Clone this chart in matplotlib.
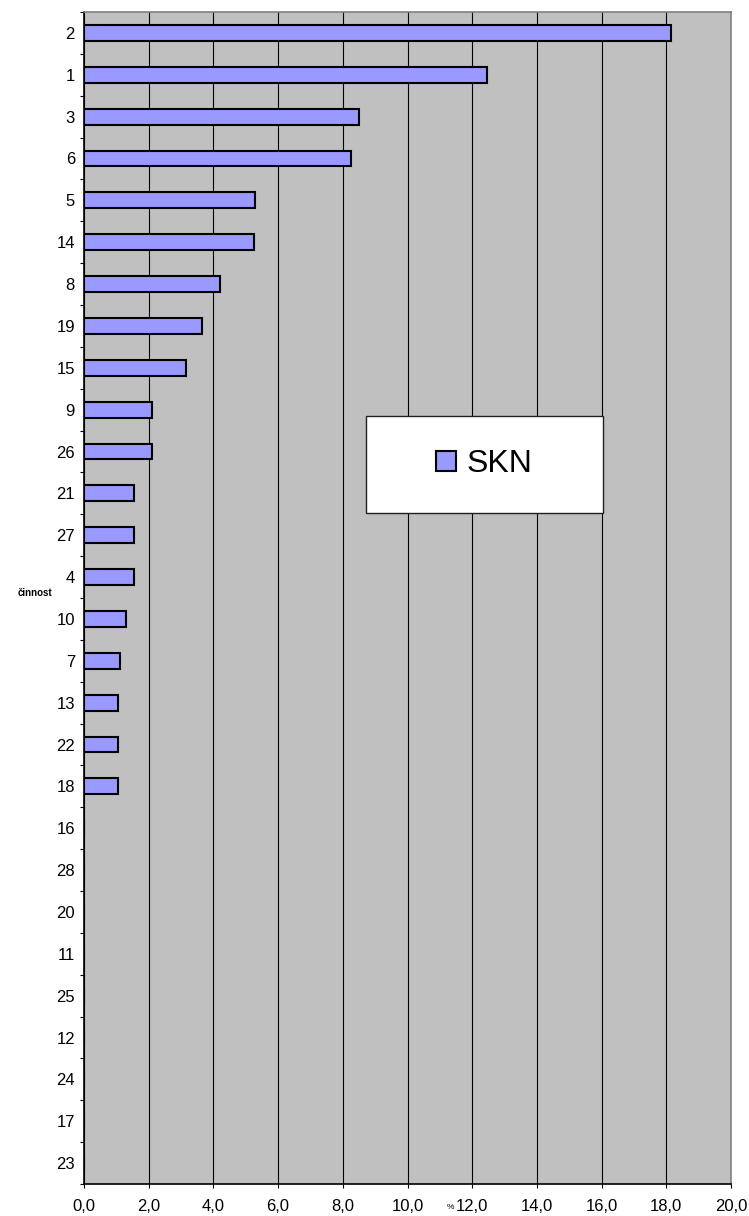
import numpy as np
import matplotlib
matplotlib.use('Agg')
import matplotlib.pyplot as plt
from matplotlib.patches import Rectangle

plt.rcParams['font.family'] = ['Liberation Sans', 'DejaVu Sans']

# activities, top to bottom
categories = ['2', '1', '3', '6', '5', '14', '8', '19', '15', '9', '26', '21', '27', '4',
              '10', '7', '13', '22', '18', '16', '28', '20', '11', '25', '12', '24', '17', '23']
skn = [18.15, 12.45, 8.5, 8.25, 5.3, 5.25, 4.2, 3.65, 3.15, 2.1, 2.1, 1.55, 1.55, 1.55,
       1.3, 1.1, 1.05, 1.05, 1.05, 0, 0, 0, 0, 0, 0, 0, 0, 0]
xticks = np.arange(0, 21, 2)
xtick_labels = [('%.1f' % v).replace('.', ',') for v in xticks]

fig = plt.figure(figsize=(7.49, 12.16), dpi=100)
ax = fig.add_axes([84 / 749, 1 - 1184 / 1216, 647 / 749, 1172 / 1216])
ax.set_facecolor('#C0C0C0')

y = np.arange(len(categories))
bars = ax.barh(y, skn, height=0.38, color='#9999FF', edgecolor='black',
               linewidth=1.5, label='SKN', zorder=3)

ax.set_xlim(0, 20)
ax.set_ylim(len(categories) - 0.5, -0.5)
ax.set_xticks(xticks)
ax.set_xticklabels(xtick_labels, fontsize=12)
ax.set_yticks(y)
ax.set_yticklabels(categories, fontsize=12)
ax.set_yticks(np.arange(len(categories) + 1) - 0.5, minor=True)
ax.tick_params(axis='y', which='major', length=0, pad=6.5)
ax.tick_params(axis='y', which='minor', length=3, width=0.8, direction='out')
ax.tick_params(axis='x', which='major', length=3, width=0.8, direction='out', pad=8)

ax.grid(axis='x', color='black', linewidth=0.8, zorder=1)
ax.set_axisbelow(True)

for side in ['top', 'right']:
    ax.spines[side].set_color('#808080')
    ax.spines[side].set_linewidth(1.2)
for side in ['left', 'bottom']:
    ax.spines[side].set_color('black')
    ax.spines[side].set_linewidth(1.2)

ax.set_xlabel('%', fontsize=6)
ax.xaxis.set_label_coords(0.567, -0.017)
ax.set_ylabel('činnost', fontsize=7, fontweight='bold', rotation=0)
ax.yaxis.set_label_coords(-0.076, 0.5)

# legend box
box = Rectangle((0.4359, 0.5725), 0.3663, 0.0828, transform=ax.transAxes,
                facecolor='white', edgecolor='#202020', linewidth=1.0, zorder=4)
ax.add_patch(box)
leg = ax.legend(loc='center', bbox_to_anchor=(0.619, 0.614), frameon=False,
                fontsize=23, handlelength=0.6, handleheight=0.6, handletextpad=0.35)
leg.set_zorder(5)

fig.savefig('out.png', dpi=100)
